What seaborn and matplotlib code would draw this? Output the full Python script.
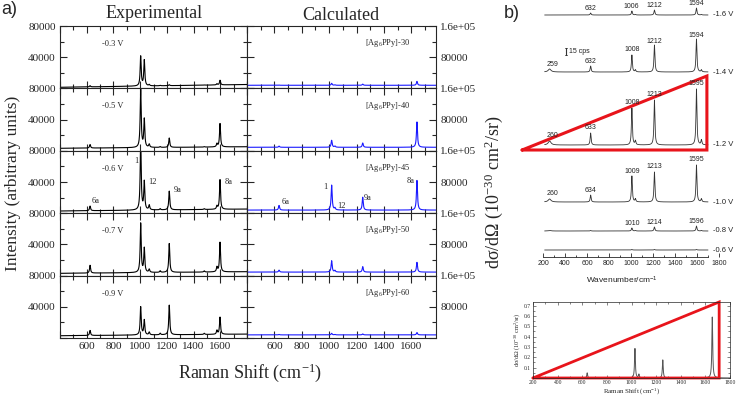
import numpy as np
import pandas as pd
import matplotlib
matplotlib.use("Agg")
import matplotlib.pyplot as plt
from matplotlib.ticker import MultipleLocator, FixedLocator, FuncFormatter
import seaborn as sns

# ---------------- data ----------------
exp_labels = ["-0.3 V", "-0.5 V", "-0.6 V", "-0.7 V", "-0.9 V"]
exp_centers = [625, 1004, 1031, 1068, 1150, 1218, 1480, 1575, 1598]
exp_heights = [
    [1500, 38000, 33000, 1500, 500, 1200, 300, 1500, 6000],
    [4500, 76000, 36000, 4000, 1000, 12000, 500, 4000, 30000],
    [6000, 90000, 36000, 6000, 1500, 24000, 1000, 4000, 38000],
    [10000, 63000, 31000, 4000, 2000, 37000, 1500, 6000, 38000],
    [6500, 36000, 19000, 3500, 2000, 38000, 1500, 5000, 22000],
]
exp_base_left = [1400, 3200, 2800, 2900, 2900]
exp_base_right = [5000, 5200, 5300, 5000, 5000]

calc_labels = ["-30", "-40", "-45", "-50", "-60"]
calc_centers = [634, 1018, 1042, 1245, 1641]
calc_heights = [
    [500, 5000, 1000, 3000, 10000],
    [3000, 18000, 3000, 11000, 65000],
    [12000, 64000, 5000, 33000, 76000],
    [5000, 29000, 4000, 14000, 25000],
    [1000, 4000, 1000, 2500, 6000],
]
calc_base = [8000, 9000, 8000, 9000, 8000]

exp_mode_labels = [("1", 969, 67300), ("12", 1092, 40000), ("9a", 1278, 29700),
                   ("8a", 1662, 40400), ("6a", 669, 16000)]
calc_mode_labels = [("6a", 681, 29500), ("1", 969, 66400), ("12", 1086, 18500),
                    ("9a", 1283, 38200), ("8a", 1597, 83300)]

b_labels = ["-1.6 V", "-1.4 V", "-1.2 V", "-1.0 V", "-0.8 V", "-0.6 V"]
b_offsets = [242, 185, 112, 55, 26, 7]
b_centers = [260, 633, 1008, 1040, 1213, 1595, 1640]
b_widths = [15, 5, 5, 5, 5, 5, 5]
b_heights = [
    [0, 2, 4, 0.5, 5, 7, 0.5],
    [3, 6, 17, 2, 27, 33, 2],
    [4, 12, 37, 4, 45, 56, 5],
    [3, 7, 26, 3, 30, 37, 3],
    [0.5, 0.5, 3, 0.5, 4, 5, 0.5],
    [0, 0, 0.5, 0, 0.5, 0.5, 0],
]
b_peak_labels = [
    [("632", 632), ("1006", 1006), ("1212", 1212), ("1594", 1594)],
    [("259", 259), ("632", 632), ("1008", 1008), ("1212", 1212), ("1594", 1594)],
    [("260", 260), ("633", 633), ("1008", 1008), ("1213", 1213), ("1595", 1595)],
    [("260", 260), ("634", 634), ("1009", 1009), ("1213", 1213), ("1595", 1595)],
    [("1010", 1010), ("1214", 1214), ("1596", 1596)],
    [],
]

inset_centers = [640, 1028, 1060, 1254, 1656]
inset_heights = [0.05, 0.285, 0.035, 0.175, 0.59]
inset_triangle_x = [200, 1712, 1712, 200]
inset_triangle_y = [0, 0.735, 0, 0]
big_triangle_x = [10, 1690, 1690, 10]
big_triangle_y = [107, 181, 107, 107]

# ---------------- style ----------------
W, H = 736, 398
sns.set_style("ticks")
plt.rcParams["font.family"] = ["Liberation Serif", "DejaVu Serif"]
plt.rcParams["mathtext.fontset"] = "custom"
plt.rcParams["mathtext.rm"] = "Liberation Serif"
plt.rcParams["mathtext.it"] = "Liberation Serif:italic"
plt.rcParams["mathtext.bf"] = "Liberation Serif:bold"
plt.rcParams["axes.linewidth"] = 0.8

fig = plt.figure(figsize=(W / 100, H / 100), dpi=100)


def fax(x0, y0, x1, y1):
    return fig.add_axes([x0 / W, 1 - y1 / H, (x1 - x0) / W, (y1 - y0) / H])


def lorentz(x, centers, heights, hwhm):
    y = np.zeros_like(x, dtype=float)
    ws = np.broadcast_to(hwhm, (len(centers),))
    for c, h, w in zip(centers, heights, ws):
        y += h * w ** 2 / ((x - c) ** 2 + w ** 2)
    return y


def line(ax, x, y, color, lw):
    df = pd.DataFrame({"x": x, "y": y})
    sns.lineplot(data=df, x="x", y="y", ax=ax, color=color, lw=lw,
                 estimator=None, sort=False, legend=False)
    ax.set_xlabel("")
    ax.set_ylabel("")


def xfmt(v, p):
    return "" if (v < 500 or v > 1700) else f"{int(round(v))}"


# ---------------- panel a ----------------
top0, ph = 26.0, 62.4
xa = np.arange(400, 1801, 1.0)
for i in range(5):
    t = top0 + ph * i
    b = t + ph
    # experimental
    ax = fax(60, t, 247, b)
    base = exp_base_left[i] + (exp_base_right[i] - exp_base_left[i]) * (xa - 400) / 1400
    y = base + lorentz(xa, exp_centers, exp_heights[i], 4.5)
    line(ax, xa, y, "black", 0.8)
    ax.set_xlim(400, 1800)
    ax.set_ylim(0, 80000)
    ax.yaxis.set_major_locator(FixedLocator([0, 40000, 80000]))
    ax.yaxis.set_minor_locator(FixedLocator([20000, 60000]))
    ax.yaxis.set_major_formatter(FuncFormatter(lambda v, p: "" if v == 0 else f"{int(v)}"))
    ax.xaxis.set_major_locator(MultipleLocator(200))
    ax.xaxis.set_minor_locator(MultipleLocator(100))
    ax.xaxis.set_major_formatter(FuncFormatter(xfmt))
    ax.tick_params(which="both", direction="in", top=True, right=True, width=0.8,
                   labelsize=8, pad=3)
    ax.tick_params(which="major", length=5)
    ax.tick_params(which="minor", length=3)
    if i < 4:
        ax.tick_params(labelbottom=False)
    ax.text(797, 57000, exp_labels[i], fontsize=6, ha="center", va="center")
    if i == 2:
        for txt, xx, yy in exp_mode_labels:
            ax.text(xx, yy, txt, fontsize=6, ha="center", va="center")

    # calculated
    ax2 = fax(247, t, 436, b)
    y2 = calc_base[i] + lorentz(xa, calc_centers, calc_heights[i], 4.5)
    line(ax2, xa, y2, "#1a1aff", 0.8)
    ax2.set_xlim(400, 1780)
    ax2.set_ylim(0, 160000)
    ax2.yaxis.set_major_locator(FixedLocator([0, 80000, 160000]))
    ax2.yaxis.set_minor_locator(FixedLocator([40000, 120000]))
    ax2.yaxis.set_major_formatter(FuncFormatter(
        lambda v, p: "" if v == 0 else ("1.6e+05" if v == 160000 else f"{int(v)}")))
    ax2.xaxis.set_major_locator(MultipleLocator(200))
    ax2.xaxis.set_minor_locator(MultipleLocator(100))
    ax2.xaxis.set_major_formatter(FuncFormatter(xfmt))
    ax2.tick_params(which="both", direction="in", top=True, right=True, left=True,
                    width=0.8, labelsize=8, pad=3, labelleft=False, labelright=True)
    ax2.tick_params(which="major", length=5)
    ax2.tick_params(which="minor", length=3)
    if i < 4:
        ax2.tick_params(labelbottom=False)
    ax2.text(1429, 116000, r"[Ag$_6$PPy]" + calc_labels[i], fontsize=6,
             ha="center", va="center")
    if i == 2:
        for txt, xx, yy in calc_mode_labels:
            ax2.text(xx, yy, txt, fontsize=6, ha="center", va="center")

fig.text(154 / W, 1 - 14 / H, "Experimental", fontsize=13, ha="center", va="center")
fig.text(341 / W, 1 - 15 / H, "Calculated", fontsize=13, ha="center", va="center")
fig.text(13 / W, 1 - 183 / H, "Intensity (arbitrary units)", fontsize=12.5,
         rotation=90, ha="center", va="center")
fig.text(494 / W, 1 - 192 / H,
         r"dσ/dΩ (10$\mathregular{^{-30}}$ cm$\mathregular{^{2}}$/sr)",
         fontsize=13, rotation=90, ha="center", va="center")
fig.text(250 / W, 1 - 373 / H, r"Raman Shift (cm$\mathregular{^{-1}}$)",
         fontsize=13, ha="center", va="center")
fig.text(1 / W, 1 - 9 / H, "a)", fontsize=13, ha="left", va="center",
         family=["Liberation Sans"])
fig.text(512 / W, 1 - 13 / H, "b)", fontsize=13, ha="center", va="center",
         family=["Liberation Sans"])

# ---------------- panel b ----------------
axb = fax(543, 0, 719, 257)
xb = np.arange(215, 1701, 1.0)
for k in range(6):
    yb = b_offsets[k] + lorentz(xb, b_centers, b_heights[k], b_widths)
    line(axb, xb, yb, "#333333", 0.6)
    axb.text(1745, b_offsets[k], b_labels[k], fontsize=5.5, ha="left", va="center",
             family=["Liberation Sans"], color="#222222")
    for txt, xx in b_peak_labels[k]:
        yy = b_offsets[k] + lorentz(np.array([float(xx)]), b_centers, b_heights[k], b_widths)[0]
        dx = 25 if xx < 300 else 0
        axb.text(xx + dx, yy + 1.5, txt, fontsize=5, ha="center", va="bottom",
                 family=["Liberation Sans"], color="#222222")
axb.set_xlim(200, 1800)
axb.set_ylim(0, 257)
for s in ["left", "right", "top"]:
    axb.spines[s].set_visible(False)
axb.spines["bottom"].set_bounds(200, 1700)
axb.spines["bottom"].set_linewidth(0.6)
axb.set_yticks([])
axb.xaxis.set_major_locator(MultipleLocator(200))
axb.xaxis.set_minor_locator(MultipleLocator(100))
axb.tick_params(which="both", direction="in", width=0.6, labelsize=5, pad=2)
axb.tick_params(which="major", length=3)
axb.tick_params(which="minor", length=1.5)
for lab in axb.get_xticklabels():
    lab.set_family("Liberation Sans")
# scale bar
axb.plot([410, 410], [202, 209], color="#333333", lw=0.8)
axb.plot([400, 420], [202, 202], color="#333333", lw=0.6)
axb.plot([400, 420], [209, 209], color="#333333", lw=0.6)
axb.text(435, 205.5, "15 cps", fontsize=5, ha="left", va="center",
         family=["Liberation Sans"], color="#222222")
axb.plot(big_triangle_x, big_triangle_y, color="#e8141b", lw=2.2, clip_on=False,
         solid_joinstyle="miter")
fig.text(622 / W, 1 - 280 / H, r"Wavenumber/cm$\mathregular{^{-1}}$", fontsize=6,
         ha="center", va="center", family=["Liberation Sans"], color="#222222")

# ---------------- inset ----------------
axi = fax(533, 302, 730, 378)
xi = np.arange(200, 1801, 1.0)
yi = lorentz(xi, inset_centers, inset_heights, 4.0)
line(axi, xi, yi, "#555555", 0.7)
axi.set_xlim(200, 1800)
axi.set_ylim(0, 0.735)
axi.xaxis.set_major_locator(MultipleLocator(200))
axi.xaxis.set_minor_locator(MultipleLocator(100))
axi.yaxis.set_major_locator(FixedLocator([0.1, 0.2, 0.3, 0.4, 0.5, 0.6, 0.7]))
axi.yaxis.set_minor_locator(MultipleLocator(0.05))
axi.tick_params(which="both", direction="in", top=True, right=True, width=0.4,
                labelsize=4, pad=1.5)
axi.tick_params(which="major", length=2.5)
axi.tick_params(which="minor", length=1.2)
for s in axi.spines.values():
    s.set_linewidth(0.5)
axi.plot(inset_triangle_x, inset_triangle_y, color="#e8141b", lw=2.0, clip_on=False,
         solid_joinstyle="miter")
axi.set_xlabel(r"Raman Shift (cm$\mathregular{^{-1}}$)", fontsize=5, labelpad=1)
axi.set_ylabel(r"dσ/dΩ (10$\mathregular{^{-30}}$ cm$\mathregular{^{2}}$/sr)",
               fontsize=4.5, labelpad=1.5)

fig.savefig("out.png", dpi=100)
